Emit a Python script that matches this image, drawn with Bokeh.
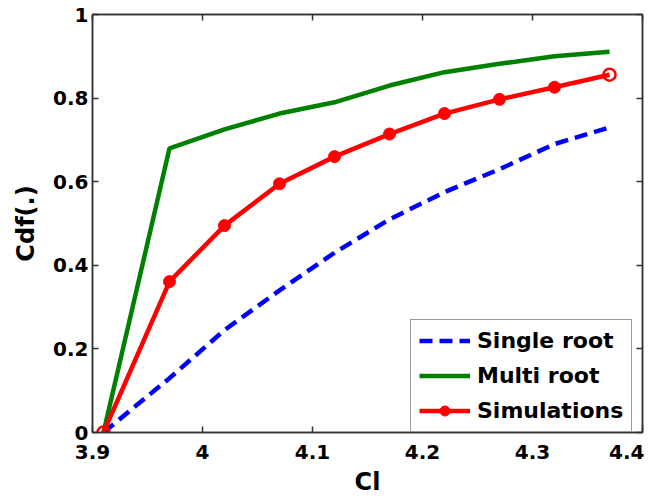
from bokeh.plotting import figure
from bokeh.models import (LinearAxis, FixedTicker, PrintfTickFormatter, Range1d, Legend,
                          LegendItem, CustomJSTickFormatter)
from bokeh.embed import file_html
from bokeh.resources import INLINE

cl = [3.91, 3.97, 4.02, 4.07, 4.12, 4.17, 4.22, 4.27, 4.32, 4.37]
single_root = [0, 0.13, 0.245, 0.34, 0.43, 0.51, 0.575, 0.63, 0.69, 0.73]
multi_root = [0, 0.68, 0.725, 0.763, 0.79, 0.83, 0.862, 0.882, 0.90, 0.911]
simulations = [0, 0.361, 0.495, 0.595, 0.66, 0.714, 0.763, 0.797, 0.826, 0.856]
x_ticks = [3.9, 4.0, 4.1, 4.2, 4.3, 4.4]
y_ticks = [0, 0.2, 0.4, 0.6, 0.8, 1.0]

FONT = "DejaVu Sans"
AX = "#333333"

p = figure(frame_width=550, frame_height=418, output_backend="svg", toolbar_location=None,
           x_range=Range1d(3.9, 4.4), y_range=Range1d(0, 1),
           min_border_left=92, min_border_right=2, min_border_top=14, min_border_bottom=40)
p.xaxis.visible = False
p.yaxis.visible = False
p.grid.visible = False
p.outline_line_color = AX
p.outline_line_width = 1.5


def style(ax, labels=True):
    ax.major_tick_in = 6
    ax.major_tick_out = 0
    ax.minor_tick_in = 0
    ax.minor_tick_out = 0
    ax.axis_line_color = AX
    ax.axis_line_width = 1.5
    ax.major_tick_line_color = AX
    ax.major_tick_line_width = 1.5
    if labels:
        ax.formatter = PrintfTickFormatter(format="%g")
        ax.major_label_text_font = FONT
        ax.major_label_text_font_style = "bold"
        ax.major_label_text_font_size = "20px"
        ax.major_label_text_color = "black"
        ax.axis_label_text_font = FONT
        ax.axis_label_text_font_style = "bold"
        ax.axis_label_text_font_size = "24px"
        ax.axis_label_text_color = "black"
    else:
        ax.formatter = CustomJSTickFormatter(code="return ''")
        ax.major_label_standoff = 0


xb = LinearAxis(ticker=FixedTicker(ticks=x_ticks), axis_label="Cl")
style(xb)
xb.major_label_standoff = 12
xb.axis_label_standoff = 6
p.add_layout(xb, "below")

yl = LinearAxis(ticker=FixedTicker(ticks=y_ticks), axis_label="Cdf(.)")
style(yl)
yl.major_label_standoff = 4
yl.axis_label_standoff = 10
p.add_layout(yl, "left")

xt = LinearAxis(ticker=FixedTicker(ticks=x_ticks))
style(xt, labels=False)
p.add_layout(xt, "above")
yr = LinearAxis(ticker=FixedTicker(ticks=y_ticks))
style(yr, labels=False)
p.add_layout(yr, "right")

r_single = p.line(cl, single_root, line_color="#0000ff", line_width=4.5, line_dash="13 7")
r_multi = p.line(cl, multi_root, line_color="#008000", line_width=4.5)
r_sim = p.line(cl, simulations, line_color="#ff0000", line_width=4.5)
r_simm = p.scatter(cl[1:-1], simulations[1:-1], size=12, fill_color="#ff0000", line_color="#ff0000")
p.scatter([cl[0], cl[-1]], [simulations[0], simulations[-1]], size=12, fill_color=None,
          line_color="#ff0000", line_width=2.5)

legend = Legend(items=[
    LegendItem(label="Single root", renderers=[r_single]),
    LegendItem(label="Multi root", renderers=[r_multi]),
    LegendItem(label="Simulations", renderers=[r_sim, r_simm]),
], location=(318, 0))
legend.label_text_font = FONT
legend.label_text_font_style = "bold"
legend.label_text_font_size = "22px"
legend.label_text_color = "black"
legend.glyph_width = 51
legend.glyph_height = 25
legend.label_height = 25
legend.spacing = 10
legend.padding = 8
legend.margin = 0
legend.label_standoff = 7
legend.border_line_color = AX
legend.border_line_width = 1.5
legend.background_fill_alpha = 1
p.add_layout(legend, "center")

open("out.html", "w").write(file_html(p, INLINE))
